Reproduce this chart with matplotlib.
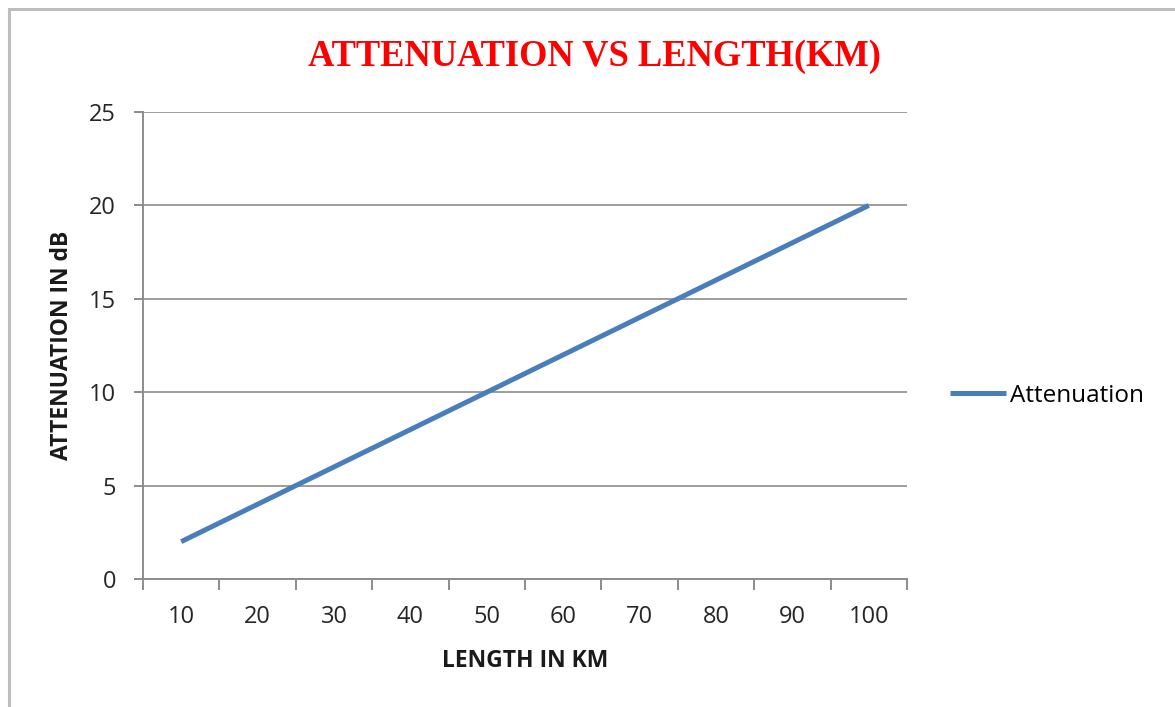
import matplotlib.pyplot as plt
from matplotlib.patches import Rectangle

# attenuation of fibre vs length
length_km = [10, 20, 30, 40, 50, 60, 70, 80, 90, 100]
attenuation_db = [2, 4, 6, 8, 10, 12, 14, 16, 18, 20]

W, H = 1175, 707
fig = plt.figure(figsize=(W / 100, H / 100), dpi=100)

# chart frame (runs off the right and bottom edge)
fig.patches.append(Rectangle((9 / W, -0.1), 1.2, 1 - 9 / H + 0.1,
                             transform=fig.transFigure, fill=False,
                             edgecolor='#bdbdbd', linewidth=2.2))

ax = fig.add_axes([143 / W, 1 - 579 / H, (907 - 143) / W, (579 - 112) / H])

# category axis: points sit in the middle of each slot
pos = list(range(len(length_km)))
ax.plot(pos, attenuation_db, color='#4a7ebb', linewidth=3.6,
        solid_capstyle='butt', label='Attenuation')

ax.set_xlim(-0.5, len(length_km) - 0.5)
ax.set_ylim(0, 25)
ax.set_yticks([0, 5, 10, 15, 20, 25])
ax.set_xticks(pos)
ax.set_xticklabels([str(v) for v in length_km])
ax.set_xticks([p - 0.5 for p in pos] + [len(pos) - 0.5], minor=True)

ax.grid(axis='y', color='#8c8c8c', linewidth=1.2)
ax.set_axisbelow(True)
for s in ['top', 'right']:
    ax.spines[s].set_visible(False)
for s in ['left', 'bottom']:
    ax.spines[s].set_color('#8c8c8c')
    ax.spines[s].set_linewidth(1.4)

font = ['Open Sans', 'DejaVu Sans']
ax.tick_params(axis='x', which='major', length=0, pad=19,
               labelsize=17, labelcolor='#262626')
ax.tick_params(axis='x', which='minor', length=8, width=1.4, color='#8c8c8c',
               direction='out')
ax.tick_params(axis='y', length=6.5, width=1.4, color='#8c8c8c', pad=13,
               labelsize=17, labelcolor='#262626')
for lab in ax.get_xticklabels() + ax.get_yticklabels():
    lab.set_family(font)

ax.set_xlabel('LENGTH IN KM', family=font, fontweight='bold', fontsize=16.5,
              color='#1a1a1a', va='center')
ax.xaxis.set_label_coords(0.5, (579 - 661) / 467)
ax.set_ylabel('ATTENUATION IN dB', family=font, fontweight='bold',
              fontsize=16.5, color='#1a1a1a', va='center')
ax.yaxis.set_label_coords((62 - 143) / 764, 0.5)

fig.text(594 / W, 1 - 57 / H, 'ATTENUATION VS LENGTH(KM)', color='#ff0000',
         family=['Liberation Serif', 'DejaVu Serif'], fontweight='bold',
         fontsize=26.3, ha='center', va='center')

fig.legend(loc='center left', bbox_to_anchor=(950 / W, 1 - 396 / H),
           frameon=False, borderpad=0, borderaxespad=0,
           handlelength=2.3, handletextpad=0.15,
           prop={'family': font, 'size': 17.5})

fig.savefig('out.png', dpi=100, facecolor='white')
